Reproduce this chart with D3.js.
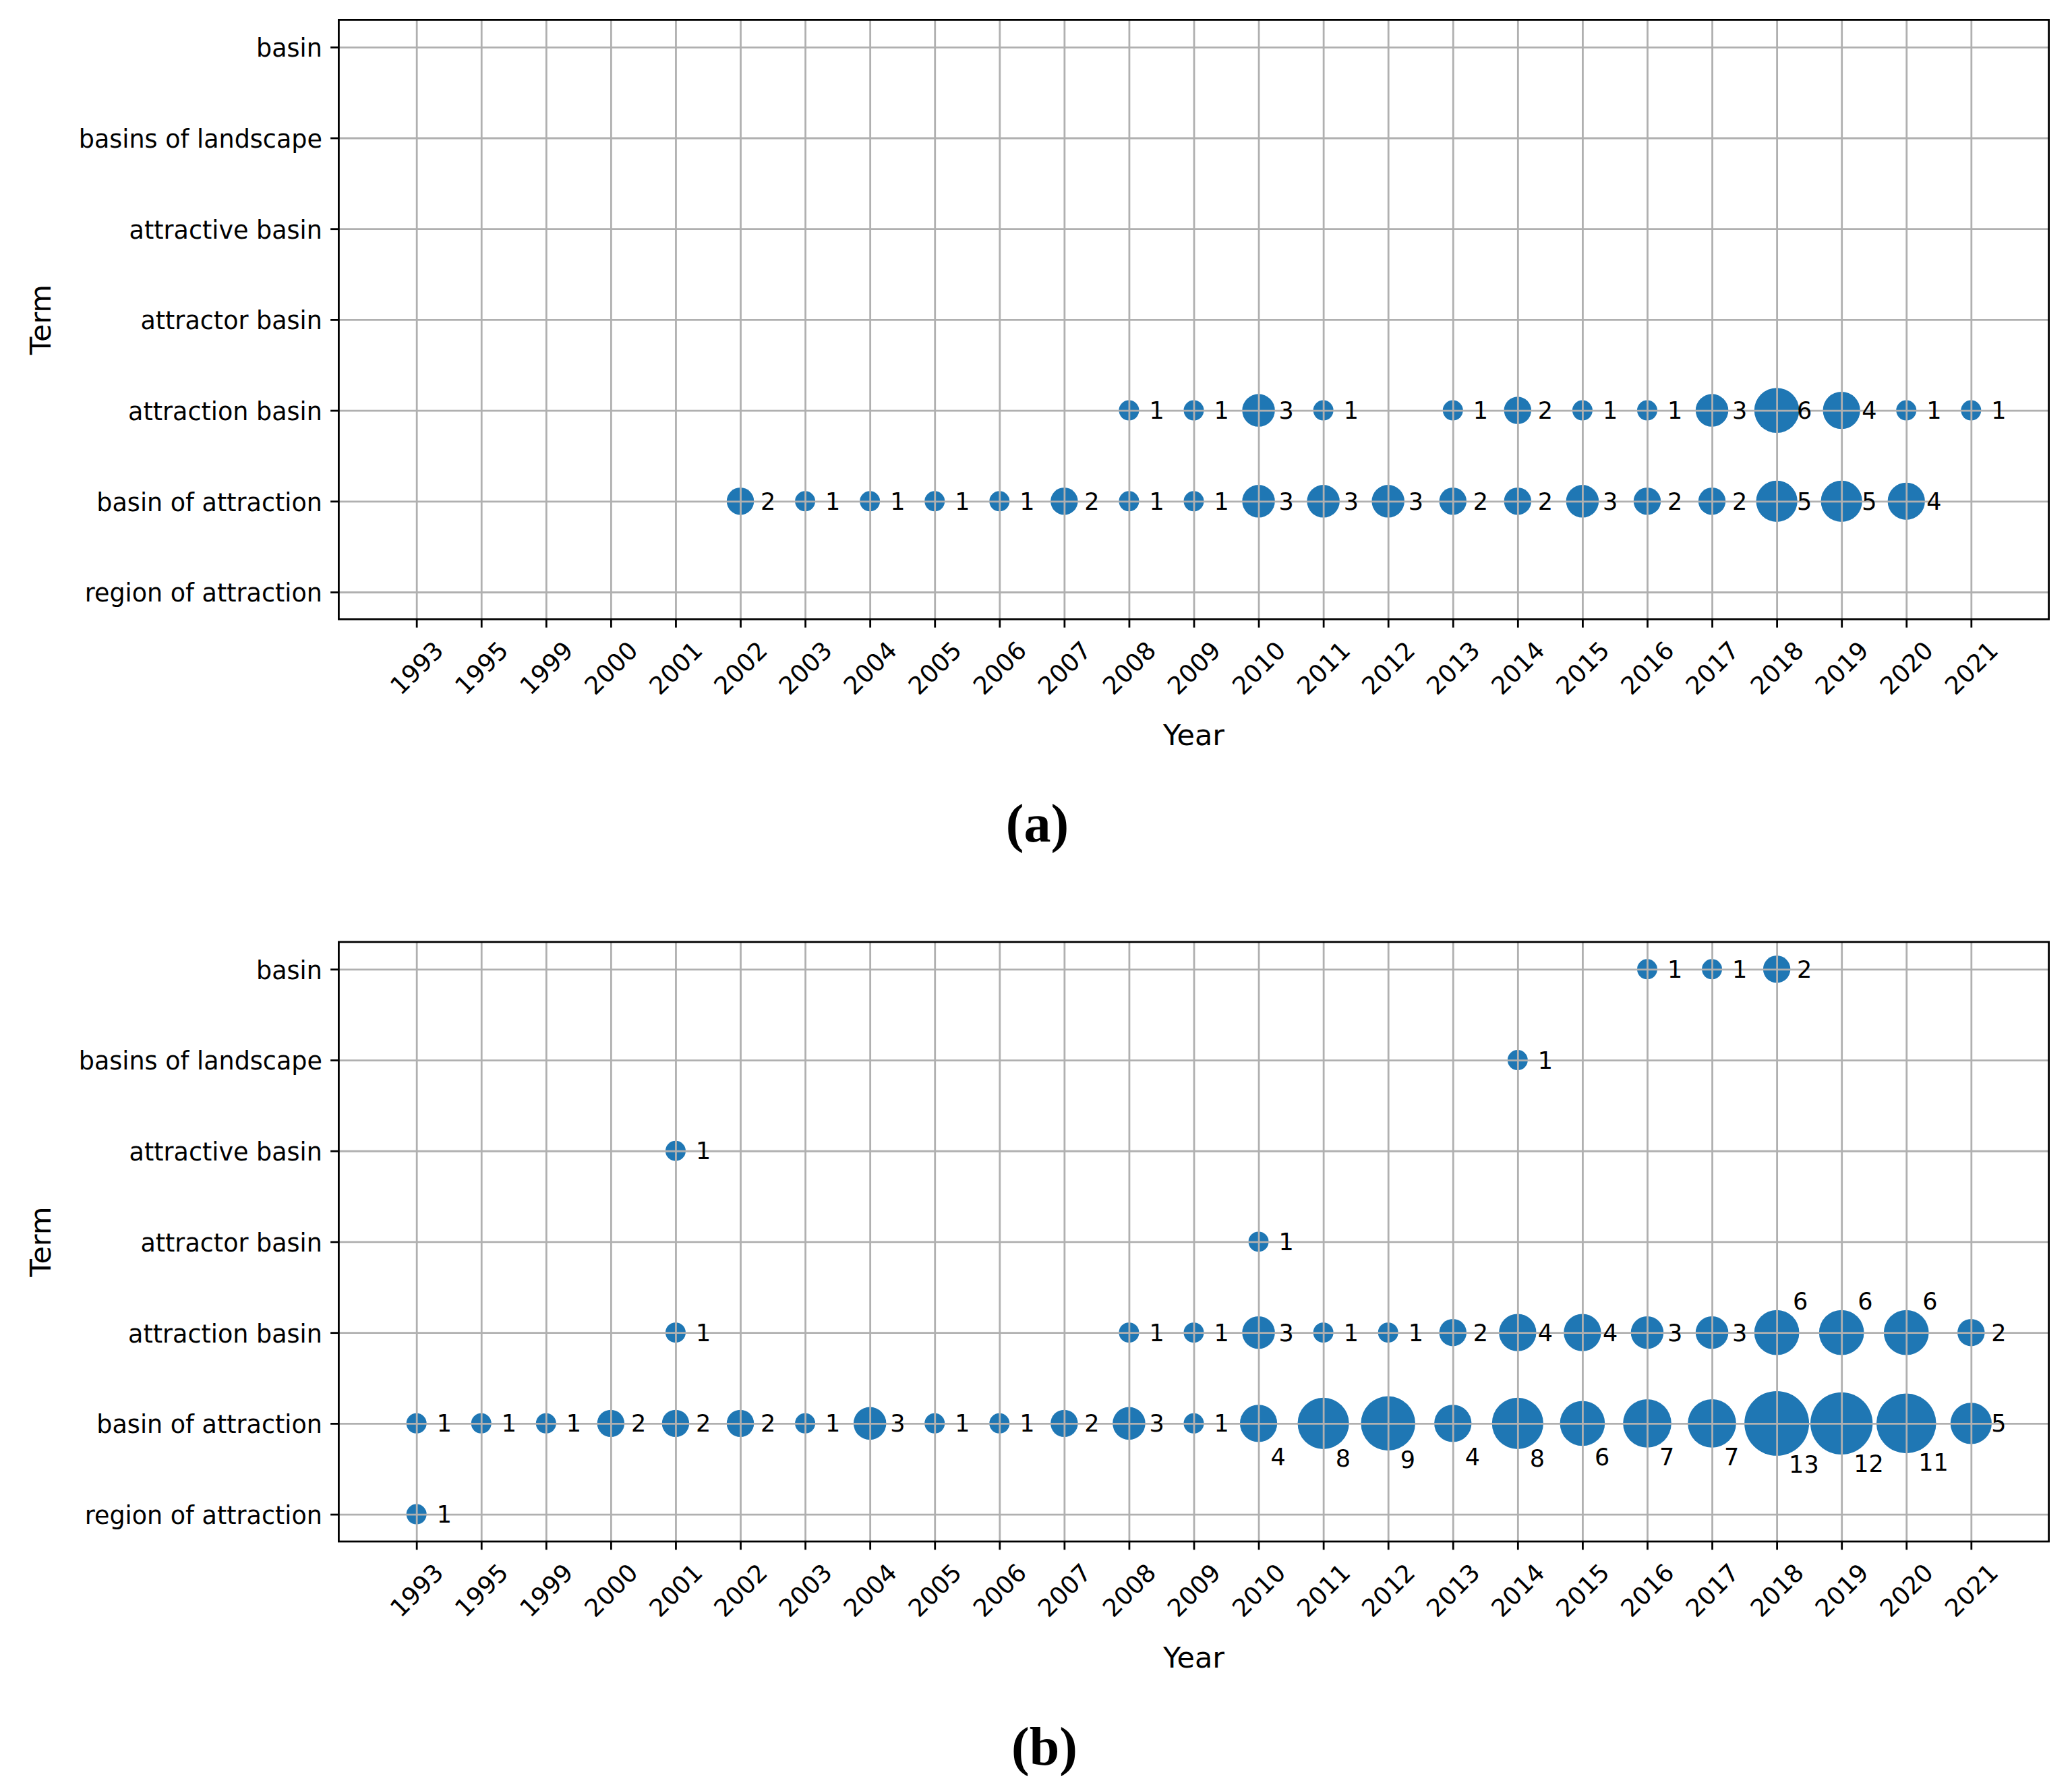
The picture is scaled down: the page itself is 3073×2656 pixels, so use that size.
<!DOCTYPE html>
<html>
<head>
<meta charset="utf-8">
<script src="https://cdn.jsdelivr.net/npm/d3@7"></script>
<style>body{margin:0;background:#fff}</style>
</head>
<body>
<svg id="chart" width="3073" height="2656"></svg>
<script>
// ---------- DATA ----------
const yearLabels = ["1993","1995","1999","2000","2001","2002","2003","2004","2005","2006","2007","2008","2009","2010","2011","2012","2013","2014","2015","2016","2017","2018","2019","2020","2021"];
const termLabels = ["basin","basins of landscape","attractive basin","attractor basin","attraction basin","basin of attraction","region of attraction"];

// Panel (a)
const aAttractionBasin = [["2008",1],["2009",1],["2010",3],["2011",1],["2013",1],["2014",2],["2015",1],["2016",1],["2017",3],["2018",6],["2019",4],["2020",1],["2021",1]];
const aBasinOfAttraction = [["2002",2],["2003",1],["2004",1],["2005",1],["2006",1],["2007",2],["2008",1],["2009",1],["2010",3],["2011",3],["2012",3],["2013",2],["2014",2],["2015",3],["2016",2],["2017",2],["2018",5],["2019",5],["2020",4]];

// Panel (b)
const bBasin = [["2016",1],["2017",1],["2018",2]];
const bBasinsOfLandscape = [["2014",1]];
const bAttractiveBasin = [["2001",1]];
const bAttractorBasin = [["2010",1]];
const bAttractionBasin = [["2001",1],["2008",1],["2009",1],["2010",3],["2011",1],["2012",1],["2013",2],["2014",4],["2015",4],["2016",3],["2017",3],["2018",6],["2019",6],["2020",6],["2021",2]];
const bBasinOfAttraction = [["1993",1],["1995",1],["1999",1],["2000",2],["2001",2],["2002",2],["2003",1],["2004",3],["2005",1],["2006",1],["2007",2],["2008",3],["2009",1],["2010",4],["2011",8],["2012",9],["2013",4],["2014",8],["2015",6],["2016",7],["2017",7],["2018",13],["2019",12],["2020",11],["2021",5]];
const bRegionOfAttraction = [["1993",1]];

const captions = ["(a)", "(b)"];
const axisTitleX = "Year";
const axisTitleY = "Term";

// ---------- LAYOUT / STYLE ----------
const W = 3073, H = 2656;
const left = 502.4, right = 3038.6;
const FONT = "DejaVu Sans";
const TICKFS = 36.5;
const blue = "#1f77b4";
const gridColor = "#b0b0b0";
const lw = 2.8;
const tickLen = 12.25, tickPad = 12.25;

const svg = d3.select("#chart");
svg.append("rect").attr("width", W).attr("height", H).attr("fill", "#fff");

const panels = [
  { top: 29.4, bottom: 918.4, caption: captions[0], capX: 1538.5, capY: 1248,
    series: [
      { term: "attraction basin", data: aAttractionBasin },
      { term: "basin of attraction", data: aBasinOfAttraction }
    ] },
  { top: 1396.9, bottom: 2286, caption: captions[1], capX: 1549, capY: 2617,
    series: [
      { term: "basin", data: bBasin },
      { term: "basins of landscape", data: bBasinsOfLandscape },
      { term: "attractive basin", data: bAttractiveBasin },
      { term: "attractor basin", data: bAttractorBasin },
      { term: "attraction basin", data: bAttractionBasin },
      { term: "basin of attraction", data: bBasinOfAttraction },
      { term: "region of attraction", data: bRegionOfAttraction }
    ] }
];

const sizeScale = d3.scaleSqrt().domain([0, 1]).range([0, 12.65]);
const edge = 2.35;
const rad = c => sizeScale(c) + edge;

function drawPanel(p) {
  const x = d3.scalePoint().domain(yearLabels).range([left, right]).padding(1.2);
  const y = d3.scalePoint().domain(termLabels).range([p.top, p.bottom]).padding(0.3);
  const g = svg.append("g");
  const hgt = p.bottom - p.top;

  const pts = [];
  p.series.forEach(s => s.data.forEach(([yr, c]) => pts.push({ term: s.term, year: yr, count: c })));

  // bubbles
  g.append("g").selectAll("circle").data(pts).join("circle")
    .attr("cx", d => x(d.year)).attr("cy", d => y(d.term))
    .attr("r", d => rad(d.count)).attr("fill", blue);

  // grid (drawn over bubbles, like matplotlib)
  const gx = g.append("g").attr("transform", `translate(0,${p.bottom})`)
    .call(d3.axisBottom(x).tickSize(-hgt).tickFormat(""));
  gx.select(".domain").remove();
  gx.selectAll("line").attr("stroke", gridColor).attr("stroke-width", lw);
  const gy = g.append("g").attr("transform", `translate(${left},0)`)
    .call(d3.axisLeft(y).tickSize(-(right - left)).tickFormat(""));
  gy.select(".domain").remove();
  gy.selectAll("line").attr("stroke", gridColor).attr("stroke-width", lw);

  // value labels
  const step = x.step();
  const gap = (a, b) => step - rad(a.count) - rad(b.count);
  const lab = g.append("g").attr("font-family", FONT).attr("font-size", 35).attr("fill", "#000");
  pts.forEach(d => {
    const idx = yearLabels.indexOf(d.year);
    const row = pts.filter(q => q.term === d.term);
    const prev = row.find(q => yearLabels.indexOf(q.year) === idx - 1);
    const next = row.find(q => yearLabels.indexOf(q.year) === idx + 1);
    const cx = x(d.year), cy = y(d.term), r = rad(d.count);
    let mode = "right";
    if (next) {
      const gs = [gap(d, next)];
      if (prev) gs.push(gap(prev, d));
      if (Math.min(...gs) < 32) {
        const lower = termLabels[termLabels.indexOf(d.term) + 1];
        const occupied = pts.some(q => q.term === lower && q.year === d.year);
        mode = occupied ? "above" : "below";
      }
    }
    let tx, ty;
    if (mode === "right") { tx = cx + 30; ty = cy + 12.5; }
    else if (mode === "below") { tx = cx + 18; ty = cy + Math.max(r, 37) + 25.5; }
    else { tx = cx + 24; ty = cy - r - 1; }
    lab.append("text").attr("x", tx).attr("y", ty).text(d.count);
  });

  // frame
  g.append("rect").attr("x", left).attr("y", p.top).attr("width", right - left).attr("height", hgt)
    .attr("fill", "none").attr("stroke", "#000").attr("stroke-width", lw);

  // x axis
  const ax = g.append("g").attr("transform", `translate(0,${p.bottom})`)
    .call(d3.axisBottom(x).tickSize(tickLen).tickPadding(tickPad));
  ax.select(".domain").remove();
  ax.attr("font-family", FONT).attr("font-size", TICKFS);
  ax.selectAll("line").attr("stroke", "#000").attr("stroke-width", lw);
  ax.selectAll("text").attr("fill", "#000").each(function () {
    const w = this.getComputedTextLength();
    const c = tickLen + tickPad + (w + 1.164 * TICKFS) / (2 * Math.SQRT2);
    d3.select(this).attr("y", 0).attr("dy", "0.346em")
      .attr("text-anchor", "middle")
      .attr("transform", `translate(0,${c}) rotate(-45)`);
  });

  // y axis
  const ay = g.append("g").attr("transform", `translate(${left},0)`)
    .call(d3.axisLeft(y).tickSize(tickLen).tickPadding(tickPad));
  ay.select(".domain").remove();
  ay.attr("font-family", FONT).attr("font-size", TICKFS);
  ay.selectAll("line").attr("stroke", "#000").attr("stroke-width", lw);
  ay.selectAll("text").attr("fill", "#000").attr("dy", "0.38em");

  // axis titles
  g.append("text").attr("x", (left + right) / 2).attr("y", p.bottom + 187)
    .attr("text-anchor", "middle").attr("font-family", FONT).attr("font-size", 43)
    .text(axisTitleX);
  g.append("text").attr("transform", `translate(75,${(p.top + p.bottom) / 2}) rotate(-90)`)
    .attr("text-anchor", "middle").attr("font-family", FONT).attr("font-size", 43)
    .text(axisTitleY);

  // caption
  g.append("text").attr("x", p.capX).attr("y", p.capY)
    .attr("text-anchor", "middle").attr("font-family", "Liberation Serif")
    .attr("font-weight", "bold").attr("font-size", 80).text(p.caption);
}

panels.forEach(drawPanel);
</script>
</body>
</html>
